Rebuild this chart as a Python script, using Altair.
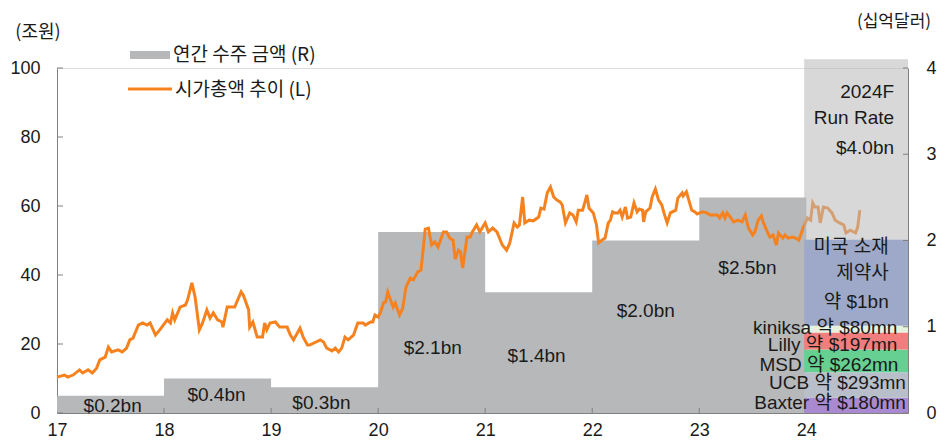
import altair as alt
import pandas as pd

# ---- market cap (조원), left axis ----
cap_t = [17.00, 17.07, 17.10, 17.15, 17.21, 17.24, 17.29, 17.33, 17.37, 17.40, 17.45, 17.48, 17.51, 17.57, 17.61,
         17.65, 17.68, 17.71, 17.76, 17.80, 17.84, 17.87, 17.92, 17.96, 18.03, 18.06, 18.08, 18.10, 18.15, 18.20,
         18.22, 18.26, 18.29, 18.33, 18.36, 18.40, 18.43, 18.46, 18.50, 18.54, 18.55, 18.59, 18.66, 18.72, 18.74,
         18.79, 18.80, 18.83, 18.87, 18.92, 18.94, 18.96, 18.99, 19.04, 19.08, 19.15, 19.18, 19.21, 19.27, 19.30,
         19.34, 19.36, 19.46, 19.49, 19.52, 19.57, 19.60, 19.63, 19.66, 19.69, 19.72, 19.77, 19.81, 19.86, 19.88,
         19.93, 19.95, 19.97, 20.00, 20.02, 20.05, 20.07, 20.09, 20.14, 20.16, 20.20, 20.23, 20.26, 20.30, 20.33,
         20.37, 20.40, 20.42, 20.44, 20.47, 20.50, 20.53, 20.56, 20.61, 20.64, 20.67, 20.70, 20.72, 20.75, 20.77,
         20.79, 20.83, 20.86, 20.88, 20.92, 20.95, 21.00, 21.03, 21.07, 21.11, 21.16, 21.20, 21.23, 21.27, 21.30,
         21.32, 21.35, 21.37, 21.41, 21.45, 21.50, 21.52, 21.55, 21.58, 21.61, 21.64, 21.67, 21.70, 21.72, 21.75,
         21.79, 21.82, 21.85, 21.87, 21.91, 21.93, 21.95, 21.97, 22.01, 22.04, 22.06, 22.09, 22.12, 22.15, 22.17,
         22.19, 22.21, 22.24, 22.26, 22.28, 22.31, 22.33, 22.36, 22.39, 22.42, 22.44, 22.47, 22.48, 22.50, 22.54,
         22.56, 22.59, 22.62, 22.65, 22.67, 22.70, 22.73, 22.78, 22.80, 22.84, 22.85, 22.88, 22.91, 22.93, 22.96,
         22.98, 23.03, 23.07, 23.10, 23.13, 23.17, 23.19, 23.22, 23.24, 23.26, 23.29, 23.32, 23.36, 23.40, 23.43,
         23.46, 23.50, 23.52, 23.55, 23.58, 23.60, 23.64, 23.66, 23.69, 23.72, 23.74, 23.78, 23.80, 23.83, 23.87,
         23.90, 23.93, 23.97, 24.01, 24.04, 24.06, 24.08, 24.11, 24.13, 24.16, 24.20, 24.24, 24.27, 24.31, 24.35,
         24.37, 24.41, 24.46, 24.48, 24.50]
cap_v = [10.4, 11.0, 10.4, 11.0, 12.5, 11.6, 12.5, 11.6, 13.0, 15.4, 16.2, 19.1, 17.7, 18.3, 17.7,
         18.8, 21.2, 21.7, 25.5, 26.1, 25.5, 26.1, 22.6, 24.1, 27.0, 26.1, 29.0, 27.0, 30.7, 31.3,
         32.8, 37.7, 33.6, 24.1, 26.1, 29.9, 27.5, 29.0, 27.0, 26.4, 24.9, 30.7, 30.7, 35.1, 34.2,
         29.9, 24.9, 26.4, 22.0, 22.0, 26.1, 24.1, 26.1, 26.4, 24.9, 24.9, 22.6, 21.2, 24.6, 22.0,
         19.7, 19.7, 21.2, 20.6, 18.8, 18.0, 18.8, 17.7, 18.8, 22.0, 21.2, 22.6, 26.1, 26.1, 25.5,
         26.4, 26.4, 28.4, 27.8, 29.0, 31.9, 32.2, 35.1, 30.7, 31.9, 28.4, 30.4, 36.5, 39.1, 38.6,
         40.9, 41.4, 47.2, 53.3, 53.6, 48.7, 49.6, 48.1, 52.5, 52.5, 50.7, 50.1, 44.6, 47.2, 46.7,
         42.0, 51.0, 51.0, 52.5, 54.5, 52.5, 55.1, 52.5, 53.6, 52.5, 48.7, 47.2, 49.3, 55.1, 53.9,
         54.5, 62.6, 55.1, 55.9, 55.7, 56.8, 59.4, 59.1, 63.8, 65.5, 62.6, 61.7, 61.2, 60.3, 55.1,
         58.0, 57.4, 55.4, 58.8, 58.8, 60.9, 63.2, 59.4, 58.0, 54.5, 49.3, 50.1, 50.7, 55.1, 55.9,
         58.3, 58.0, 58.0, 58.8, 56.8, 59.7, 56.5, 56.8, 60.9, 58.3, 59.1, 58.8, 55.4, 58.3, 59.4,
         62.6, 64.9, 61.7, 60.3, 58.0, 55.1, 58.0, 58.8, 62.3, 63.8, 62.9, 64.1, 60.9, 58.8, 58.3,
         57.7, 58.3, 58.0, 57.4, 57.4, 57.4, 56.5, 58.0, 56.5, 58.0, 56.8, 55.4, 55.9, 55.4, 57.4,
         53.6, 51.6, 52.5, 55.9, 57.1, 55.1, 52.2, 51.0, 51.6, 48.7, 52.2, 50.7, 51.6, 50.7, 51.0,
         50.7, 50.1, 53.6, 56.5, 55.9, 60.9, 59.7, 59.7, 55.1, 59.7, 59.4, 58.0, 55.9, 55.1, 54.5,
         52.2, 53.0, 52.2, 53.9, 58.8]

# ---- annual order amount (십억달러), right axis ----
order_years = [17, 18, 19, 20, 21, 22, 23, 24]
order_values = [0.2, 0.4, 0.3, 2.1, 1.4, 2.0, 2.5, 2.5]
order_labels = ["$0.2bn", "$0.4bn", "$0.3bn", "$2.1bn", "$1.4bn", "$2.0bn", "$2.5bn"]
order_label_t = [17.52, 18.49, 19.47, 20.51, 21.48, 22.50, 23.45]
order_label_r = [0.08, 0.21, 0.12, 0.75, 0.66, 1.18, 1.68]

# ---- 2024F stacked bar ----
seg_names = ["Baxter", "UCB", "MSD", "Lilly", "kiniksa", "미국 소재 제약사", "2024F 기타"]
seg_values = [0.18, 0.293, 0.262, 0.197, 0.08, 1.0, 2.09]
seg_colors = ["#a98ad0", "#b9bfca", "#66cf92", "#f27d7d", "#e7f2dc", "#9ea9c9", "#b8b8b8"]
seg_opacity = [1, 1, 1, 1, 1, 1, 0.55]
bar_t0, bar_t1 = 23.98, 24.95

bar_texts = ["2024F", "Run Rate", "$4.0bn", "미국 소재", "제약사", "약 $1bn",
             "kiniksa 약 $80mn", "Lilly 약 $197mn", "MSD 약 $262mn", "UCB 약 $293mn", "Baxter 약 $180mn"]
bar_text_t = [24.82, 24.82, 24.82, 24.77, 24.77, 24.77, 24.85, 24.85, 24.86, 24.93, 24.93]
bar_text_r = [3.72, 3.42, 3.07, 1.92, 1.62, 1.29, 0.99, 0.79, 0.56, 0.35, 0.12]

left_ticks = [0, 20, 40, 60, 80, 100]
right_ticks = [0, 1, 2, 3, 4]
x_ticks = [17, 18, 19, 20, 21, 22, 23, 24]

FONT = "Liberation Sans, Noto Sans CJK KR"
KFONT = "Noto Sans CJK KR"
AXIS_C = "#808080"
ORANGE = "#f5821f"
GRAY = "#b7b8ba"
TXT = "#1a1a1a"

xscale = alt.Scale(domain=[17, 24.95], nice=False, zero=False)
yl = alt.Scale(domain=[0, 100], nice=False)
yr = alt.Scale(domain=[0, 4], nice=False)

xaxis = alt.Axis(values=x_ticks, format="d", tickSize=0, labelPadding=8, labelFontSize=18, labelFlush=False,
                 labelColor=TXT, domainColor=AXIS_C, grid=False, title=None, labelFont=FONT)
raxis = alt.Axis(orient="right", values=right_ticks, tickSize=0, labelPadding=18, labelFlush=False,
                 labelFontSize=18, labelColor=TXT, domainColor=AXIS_C, grid=False, title=None, labelFont=FONT)
laxis = alt.Axis(orient="left", values=left_ticks, tickSize=0, labelPadding=17, labelFlush=False,
                 labelFontSize=18, labelColor=TXT, domainColor=AXIS_C, grid=False, title=None, labelFont=FONT)

cap_df = pd.DataFrame({"t": cap_t, "v": cap_v})
order_df = pd.DataFrame({"t": order_years, "r": order_values})
olab_df = pd.DataFrame({"t": order_label_t, "r": order_label_r, "txt": order_labels})

cum = 0.0
rows = []
for n, v, c, o in zip(seg_names, seg_values, seg_colors, seg_opacity):
    rows.append({"name": n, "t0": bar_t0, "t1": bar_t1, "r0": cum, "r1": cum + v, "c": c, "o": o})
    cum += v
seg_df = pd.DataFrame(rows)
btxt_df = pd.DataFrame({"t": bar_text_t, "r": bar_text_r, "txt": bar_texts})

one = pd.DataFrame({"a": [0]})

# --- right-scale group A: area + yearly labels (carries the right axis) ---
area = alt.Chart(order_df).mark_area(interpolate="step-after", color=GRAY).encode(
    x=alt.X("t:Q", scale=xscale, axis=xaxis),
    y=alt.Y("r:Q", scale=yr, axis=raxis),
)
olab = alt.Chart(olab_df).mark_text(fontSize=19, color=TXT, font=FONT).encode(
    x=alt.X("t:Q", scale=xscale, axis=xaxis), y=alt.Y("r:Q", scale=yr, axis=raxis), text="txt:N")
groupA = alt.layer(area, olab)

# --- left-scale group B: line, ticks, legend, titles ---
line = alt.Chart(cap_df).mark_line(color=ORANGE, strokeWidth=3).encode(
    x=alt.X("t:Q", scale=xscale, axis=xaxis),
    y=alt.Y("v:Q", scale=yl, axis=laxis),
)
lticks = alt.Chart(pd.DataFrame({"v": left_ticks})).mark_rule(color=AXIS_C).encode(
    y=alt.Y("v:Q", scale=yl, axis=laxis), x=alt.value(0), x2=alt.value(6))
xticks = alt.Chart(pd.DataFrame({"t": x_ticks[1:]})).mark_rule(color=AXIS_C).encode(
    x=alt.X("t:Q", scale=xscale, axis=xaxis), y=alt.value(345), y2=alt.value(340))

leg_sw = alt.Chart(one).mark_rect(color=GRAY).encode(
    x=alt.value(73), x2=alt.value(113), y=alt.value(-17), y2=alt.value(-9))
leg_t1 = alt.Chart(one).mark_text(align="left", baseline="middle", fontSize=19, color=TXT, font=KFONT).encode(
    x=alt.value(116), y=alt.value(-13), text=alt.value("연간 수주 금액 (R)"))
leg_ln = alt.Chart(one).mark_rule(color=ORANGE, strokeWidth=3).encode(
    x=alt.value(71), x2=alt.value(115), y=alt.value(21))
leg_t2 = alt.Chart(one).mark_text(align="left", baseline="middle", fontSize=19, color=TXT, font=KFONT).encode(
    x=alt.value(118), y=alt.value(22), text=alt.value("시가총액 추이 (L)"))
ttl_l = alt.Chart(one).mark_text(align="center", baseline="middle", fontSize=18, color=TXT, font=KFONT).encode(
    x=alt.value(-19), y=alt.value(-35), text=alt.value("(조원)"))
ttl_r = alt.Chart(one).mark_text(align="center", baseline="middle", fontSize=17, color=TXT, font=KFONT).encode(
    x=alt.value(837), y=alt.value(-46), text=alt.value("(십억달러)"))
groupB = alt.layer(line, lticks, xticks, leg_sw, leg_t1, leg_ln, leg_t2, ttl_l, ttl_r)

# --- right-scale group C: 2024F stacked bar, labels ---
bars = alt.Chart(seg_df).mark_rect().encode(
    x=alt.X("t0:Q", scale=xscale, axis=xaxis), x2="t1:Q",
    y=alt.Y("r0:Q", scale=yr, axis=None), y2="r1:Q",
    color=alt.Color("c:N", scale=None),
    opacity=alt.Opacity("o:Q", scale=None),
)
btxt = alt.Chart(btxt_df).mark_text(align="right", baseline="middle", fontSize=19, color=TXT, font=FONT).encode(
    x=alt.X("t:Q", scale=xscale, axis=xaxis), y=alt.Y("r:Q", scale=yr, axis=None), text="txt:N")
rticks = alt.Chart(pd.DataFrame({"r": right_ticks})).mark_rule(color=AXIS_C).encode(
    y=alt.Y("r:Q", scale=yr, axis=None), x=alt.value(846), x2=alt.value(851))
groupC = alt.layer(bars, btxt, rticks)

chart = alt.layer(groupA, groupB, groupC).resolve_scale(y="independent").properties(
    width=851, height=345,
    padding={"left": 49, "top": 60, "right": 30, "bottom": 25},
    autosize=alt.AutoSizeParams(type="none"),
).configure_view(stroke=None).configure(font=FONT)

chart.save("out.html", embed_options={"renderer": "svg", "actions": False})
